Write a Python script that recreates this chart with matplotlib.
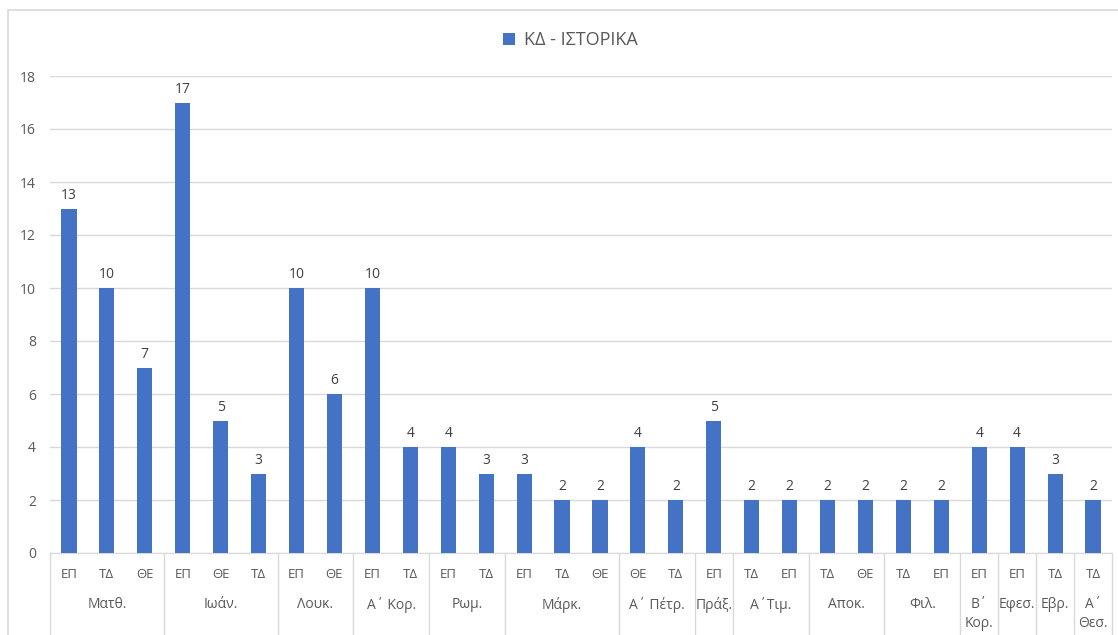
import matplotlib.pyplot as plt
import matplotlib.transforms as mtransforms
from matplotlib.patches import Rectangle

plt.rcParams['font.family'] = ['Open Sans', 'DejaVu Sans']

books = ['Ματθ.', 'Ιωάν.', 'Λουκ.', 'Α΄ Κορ.', 'Ρωμ.', 'Μάρκ.', 'Α΄ Πέτρ.', 'Πράξ.',
         'Α΄Τιμ.', 'Αποκ.', 'Φιλ.', 'Β΄\nΚορ.', 'Εφεσ.', 'Εβρ.', 'Α΄\nΘεσ.']
kinds = [['ΕΠ', 'ΤΔ', 'ΘΕ'], ['ΕΠ', 'ΘΕ', 'ΤΔ'], ['ΕΠ', 'ΘΕ'], ['ΕΠ', 'ΤΔ'], ['ΕΠ', 'ΤΔ'],
         ['ΕΠ', 'ΤΔ', 'ΘΕ'], ['ΘΕ', 'ΤΔ'], ['ΕΠ'], ['ΤΔ', 'ΕΠ'], ['ΤΔ', 'ΘΕ'], ['ΤΔ', 'ΕΠ'],
         ['ΕΠ'], ['ΕΠ'], ['ΤΔ'], ['ΤΔ']]
values = [[13, 10, 7], [17, 5, 3], [10, 6], [10, 4], [4, 3],
          [3, 2, 2], [4, 2], [5], [2, 2], [2, 2], [2, 2],
          [4], [4], [3], [2]]

gray = '#595959'
blue = '#4472C4'

sub = [k for g in kinds for k in g]
vals = [v for g in values for v in g]
x = [i + 0.5 for i in range(len(vals))]

fig = plt.figure(figsize=(11.18, 6.35), dpi=100)
ax = fig.add_axes([50 / 1118, 1 - 553 / 635, 1062 / 1118, 477 / 635])

bars = ax.bar(x, vals, width=0.4, color=blue, label='ΚΔ - ΙΣΤΟΡΙΚΑ', zorder=3)
ax.bar_label(bars, padding=4, fontsize=10, color='#404040')

ax.set_xlim(0, len(vals))
ax.set_ylim(0, 18)
ax.set_yticks(range(0, 19, 2))
ax.tick_params(axis='y', length=0, labelsize=10, labelcolor=gray, pad=10)
ax.set_xticks([])
ax.grid(axis='y', color='#d9d9d9', linewidth=1, zorder=0)
for s in ['top', 'right', 'left']:
    ax.spines[s].set_visible(False)
ax.spines['bottom'].set_color('#d9d9d9')

trans = mtransforms.blended_transform_factory(ax.transData, ax.transAxes)
for xi, lab in zip(x, sub):
    ax.text(xi, -0.046, lab, transform=trans, ha='center', va='center',
            fontsize=9.5, color=gray)

pos = 0
ax.plot([0, 0], [0, -0.2], transform=trans, color='#d9d9d9', lw=1, clip_on=False)
for name, g in zip(books, kinds):
    c = pos + len(g) / 2
    ax.text(c, -0.093, name, transform=trans, ha='center', va='top',
            fontsize=10, color=gray, linespacing=1.3)
    pos += len(g)
    ax.plot([pos, pos], [0, -0.2], transform=trans, color='#d9d9d9', lw=1, clip_on=False)

ax.legend(loc='center', bbox_to_anchor=(0.51, 1 - 40 / 635), bbox_transform=fig.transFigure,
          frameon=False, fontsize=13, labelcolor=gray, handlelength=0.65, handleheight=0.65,
          handletextpad=0.5)

fig.patches.append(Rectangle((8 / 1118, -0.1), 1.2, 1 - 10 / 635 + 0.1, transform=fig.transFigure,
                             fill=False, edgecolor='#d9d9d9', lw=1.2))

fig.savefig('out.png', dpi=100)
